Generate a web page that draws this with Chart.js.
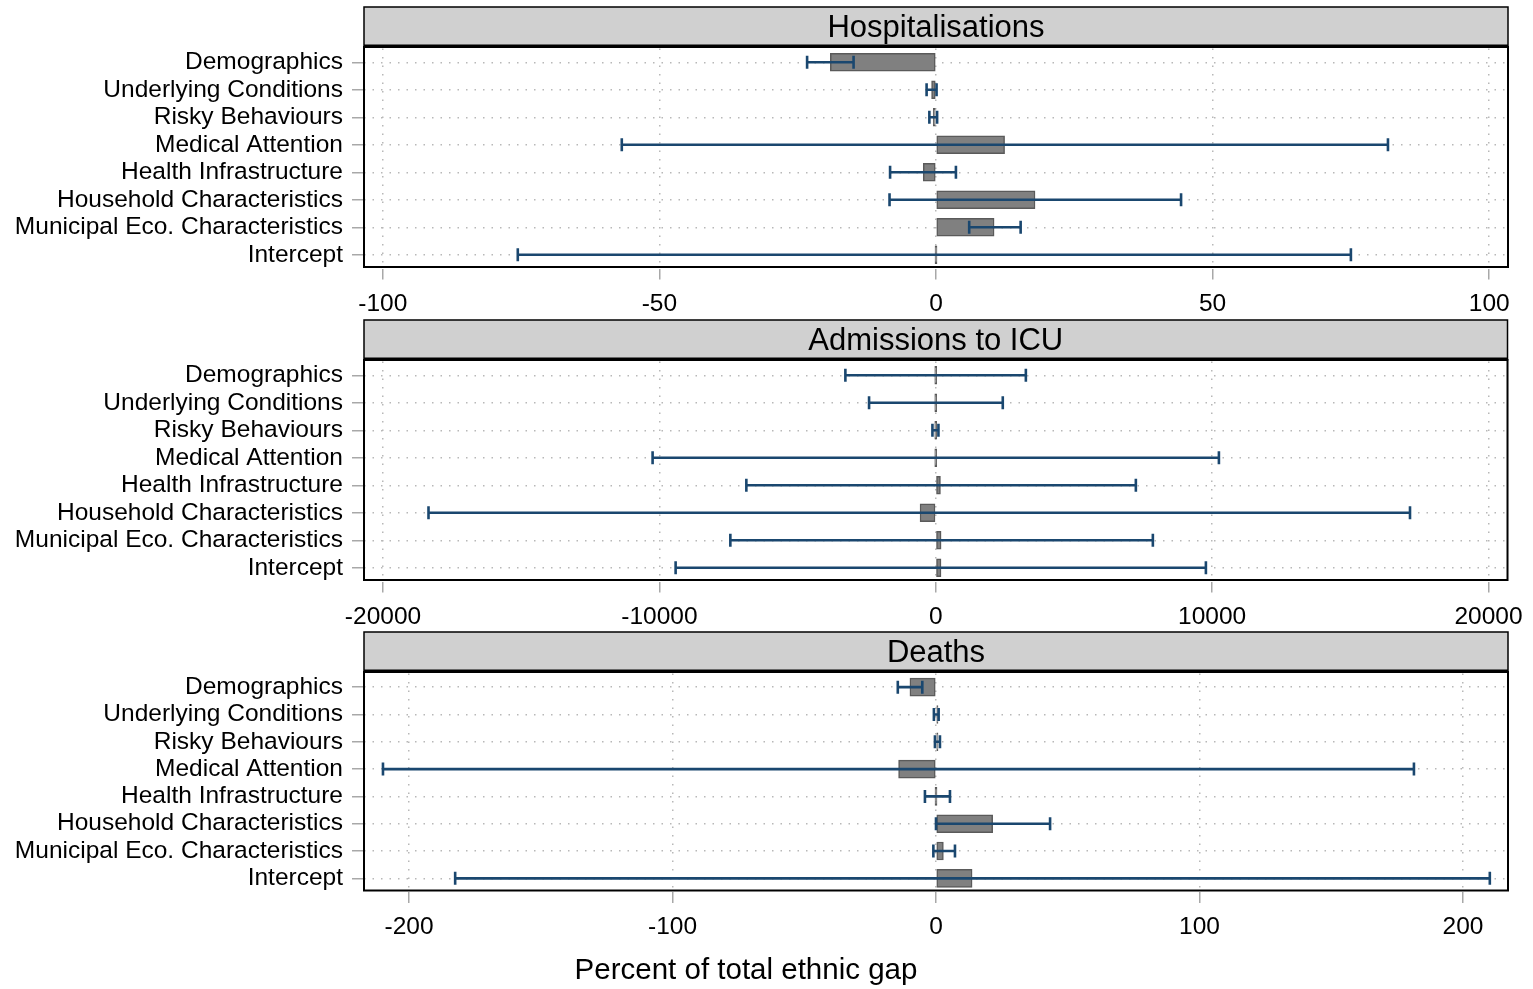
<!DOCTYPE html>
<html><head><meta charset="utf-8">
<script src="https://cdn.jsdelivr.net/npm/chart.js@4.4.0/dist/chart.umd.min.js"></script>
<style>
html,body{margin:0;padding:0;background:#fff;}
body{width:1533px;height:989px;position:relative;overflow:hidden;}
.w{position:absolute;left:0;width:1533px;}
</style></head><body>
<div class="w" style="top:0px;height:313px"><canvas id="c1"></canvas></div>
<div class="w" style="top:313px;height:313px"><canvas id="c2"></canvas></div>
<div class="w" style="top:625px;height:364px"><canvas id="c3"></canvas></div>
<script>
const categories = ['Demographics','Underlying Conditions','Risky Behaviours','Medical Attention','Health Infrastructure','Household Characteristics','Municipal Eco. Characteristics','Intercept'];

const hospValues = [-19.1, -0.8, -0.5, 12.4, -2.3, 17.9, 10.5, 0.0];
const hospLow    = [-23.3, -1.7, -1.2, -56.8, -8.3, -8.4, 6.0, -75.6];
const hospHigh   = [-14.9, 0.1, 0.2, 81.7, 3.6, 44.3, 15.3, 75.0];
const hospTicks  = [-100, -50, 0, 50, 100];

const icuValues = [0, 0, 0, 0, 170, -568, 193, 190];
const icuLow    = [-3270, -2413, -120, -10245, -6853, -18353, -7432, -9412];
const icuHigh   = [3260, 2425, 97, 10245, 7240, 17159, 7855, 9774];
const icuTicks  = [-20000, -10000, 0, 10000, 20000];

const deathValues = [-9.9, 0.1, 0.5, -14.2, 0.0, 21.5, 2.8, 13.7];
const deathLow    = [-14.5, -0.8, -0.4, -209.9, -4.2, 0.0, -1.0, -182.5];
const deathHigh   = [-5.2, 1.0, 1.5, 181.4, 5.3, 43.3, 7.2, 210.2];
const deathTicks  = [-200, -100, 0, 100, 200];

const panelTitles = ['Hospitalisations', 'Admissions to ICU', 'Deaths'];
const axisTitle = 'Percent of total ethnic gap';

const FONT = "'Liberation Sans', Arial, sans-serif";

function makePlugin(title, low, high, xTitle) {
  return {
    id: 'panelDecor',
    afterDatasetsDraw(chart) {
      const ctx = chart.ctx;
      const xs = chart.scales.x, ys = chart.scales.y;
      ctx.save();
      ctx.strokeStyle = '#1a476f';
      ctx.lineWidth = 2.6;
      ctx.lineCap = 'butt';
      const cap = 6.5;
      low.forEach((lo, i) => {
        const hi = high[i];
        const y = ys.getPixelForValue(i);
        const x1 = xs.getPixelForValue(lo), x2 = xs.getPixelForValue(hi);
        ctx.beginPath();
        ctx.moveTo(x1, y); ctx.lineTo(x2, y);
        ctx.moveTo(x1, y - cap); ctx.lineTo(x1, y + cap);
        ctx.moveTo(x2, y - cap); ctx.lineTo(x2, y + cap);
        ctx.stroke();
      });
      ctx.restore();
    },
    afterDraw(chart) {
      const ctx = chart.ctx;
      const a = chart.chartArea;
      const fTop = a.top - 1.5, fBot = a.bottom - 1.5;
      ctx.save();
      const hTop = fTop - 40;
      ctx.fillStyle = '#d0d0d0';
      ctx.fillRect(a.left, hTop, a.right - a.left, 40);
      ctx.strokeStyle = '#000';
      ctx.lineWidth = 1.5;
      ctx.strokeRect(a.left, hTop, a.right - a.left, 40);
      ctx.lineWidth = 3;
      ctx.beginPath();
      ctx.moveTo(a.left, fTop - 1); ctx.lineTo(a.right, fTop - 1);
      ctx.stroke();
      ctx.fillStyle = '#000';
      ctx.font = '31px ' + FONT;
      ctx.textAlign = 'center';
      ctx.textBaseline = 'middle';
      ctx.fillText(title, (a.left + a.right) / 2, hTop + 21);
      ctx.lineWidth = 2;
      ctx.strokeRect(a.left, fTop, a.right - a.left, fBot - fTop);
      if (xTitle) {
        ctx.font = '29.5px ' + FONT;
        ctx.fillText(xTitle, 746, chart.height - 18);
      }
      ctx.restore();
    }
  };
}

function makeChart(id, values, low, high, ticks, range, title, xHeight, xTitle) {
  new Chart(document.getElementById(id), {
    type: 'bar',
    data: {
      labels: categories,
      datasets: [{
        data: values,
        backgroundColor: '#808080',
        borderColor: '#5a5a5a',
        borderWidth: 1.5,
        borderSkipped: false,
        barThickness: 18,
        minBarLength: 2
      }]
    },
    options: {
      indexAxis: 'y',
      responsive: true,
      maintainAspectRatio: false,
      animation: false,
      layout: { padding: { top: 48.5, right: 25, left: 0, bottom: 0 } },
      plugins: { legend: { display: false }, tooltip: { enabled: false }, title: { display: false } },
      scales: {
        x: {
          type: 'linear',
          min: -range, max: range,
          afterBuildTicks(scale) { scale.ticks = ticks.map(v => ({ value: v })); },
          afterFit(scale) { scale.height = xHeight; },
          ticks: {
            autoSkip: false, maxRotation: 0,
            color: '#000', padding: 10,
            font: { family: FONT, size: 24.5 },
            callback: v => String(v)
          },
          grid: {
            color: '#b8b8b8', lineWidth: 1.5,
            tickColor: '#a8a8a8', tickWidth: 1.5, tickLength: 11
          },
          border: { display: false, dash: [1.5, 7] }
        },
        y: {
          type: 'category',
          afterFit(scale) { scale.width = 364; },
          ticks: {
            color: '#000', padding: 9, autoSkip: false,
            font: { family: FONT, size: 24.5 }
          },
          grid: {
            offset: false,
            color: '#b8b8b8', lineWidth: 1.5,
            tickColor: '#a8a8a8', tickWidth: 1.5, tickLength: 12
          },
          border: { display: false, dash: [1.5, 7] }
        }
      }
    },
    plugins: [makePlugin(title, low, high, xTitle)]
  });
}

makeChart('c1', hospValues, hospLow, hospHigh, hospTicks, 103.4, panelTitles[0], 44.5, null);
makeChart('c2', icuValues, icuLow, icuHigh, icuTicks, 20687, panelTitles[1], 44.5, null);
makeChart('c3', deathValues, deathLow, deathHigh, deathTicks, 217.1, panelTitles[2], 97, axisTitle);
</script>
</body></html>
